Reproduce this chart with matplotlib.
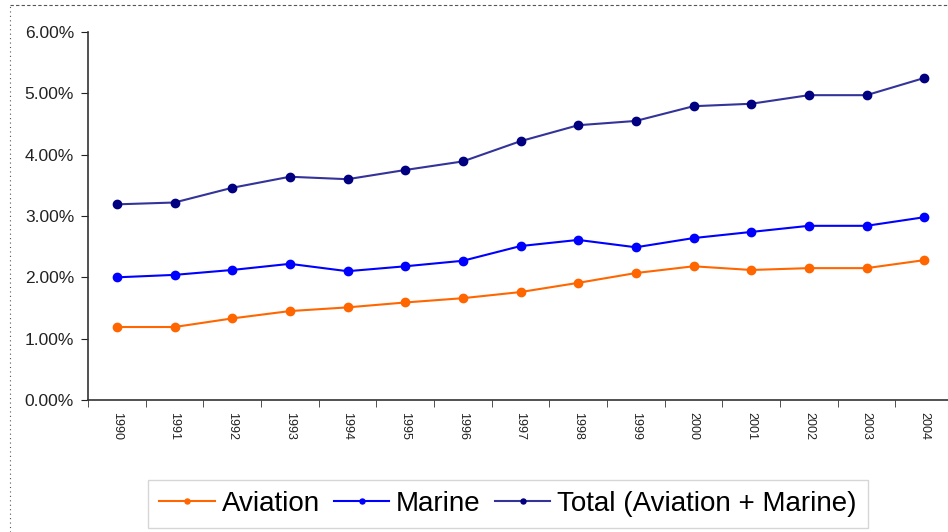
import matplotlib.pyplot as plt
from matplotlib.lines import Line2D
from matplotlib.ticker import FuncFormatter

plt.rcParams['font.family'] = ['Liberation Sans', 'DejaVu Sans']

years = ["1990", "1991", "1992", "1993", "1994", "1995", "1996", "1997",
         "1998", "1999", "2000", "2001", "2002", "2003", "2004"]
aviation = [1.19, 1.19, 1.33, 1.45, 1.51, 1.59, 1.66, 1.76, 1.91, 2.07, 2.18, 2.12, 2.15, 2.15, 2.28]
marine = [2.00, 2.04, 2.12, 2.22, 2.10, 2.18, 2.27, 2.51, 2.61, 2.49, 2.64, 2.74, 2.84, 2.84, 2.98]
total = [3.19, 3.22, 3.46, 3.64, 3.60, 3.75, 3.89, 4.22, 4.48, 4.55, 4.79, 4.83, 4.97, 4.97, 5.25]
y_ticks = [0, 1, 2, 3, 4, 5, 6]

fig = plt.figure(figsize=(9.48, 5.32), dpi=100)
ax = fig.add_axes([88 / 948, 1 - 400 / 532, (953 - 88) / 948, 368 / 532])

x = list(range(len(years)))
ax.plot(x, aviation, color="#FF6600", lw=1.5, marker="o", ms=6, label="Aviation")
ax.plot(x, marine, color="#0000FF", lw=1.5, marker="o", ms=6, label="Marine")
ax.plot(x, total, color="#333399", lw=1.5, marker="o", ms=6, mfc="#000080", mec="#000080",
        label="Total (Aviation + Marine)")

ax.set_xlim(-0.5, len(years) - 0.5)
ax.set_ylim(0, 6)
ax.set_yticks(y_ticks)
ax.yaxis.set_major_formatter(FuncFormatter(lambda v, p: f"{v:.2f}%"))
ax.tick_params(axis="y", labelsize=12.5, colors="#222222", length=5, direction="out", pad=5)

# category labels between boundary ticks
ax.set_xticks(x)
ax.set_xticklabels(years, rotation=-90, fontsize=9,
                   family=["Liberation Sans Narrow", "Liberation Sans"])
ax.tick_params(axis="x", length=0, pad=9, colors="#222222")
ax.set_xticks([i - 0.5 for i in range(len(years) + 1)], minor=True)
ax.tick_params(axis="x", which="minor", length=5, color="#333333")

for s in ["top", "right"]:
    ax.spines[s].set_visible(False)
for s in ["left", "bottom"]:
    ax.spines[s].set_color("#333333")
    ax.spines[s].set_linewidth(1.2)

# chart-area border
fig.add_artist(Line2D([10 / 948, 1], [1 - 5 / 532] * 2, color="#555555", lw=0.8, ls=(0, (3, 2))))
fig.add_artist(Line2D([10 / 948] * 2, [0, 1 - 5 / 532], color="#555555", lw=0.8, ls=(0, (1, 3))))

leg = fig.legend(loc="upper center", bbox_to_anchor=(508 / 948, 1 - 466 / 532), ncol=3,
                 fontsize=20, frameon=True, fancybox=False, handlelength=2.0,
                 handletextpad=0.25, columnspacing=0.5, markerscale=0.6, borderpad=0.4)
leg.get_frame().set_edgecolor("#cccccc")
leg.get_frame().set_linewidth(1)

fig.savefig("out.png", dpi=100)
